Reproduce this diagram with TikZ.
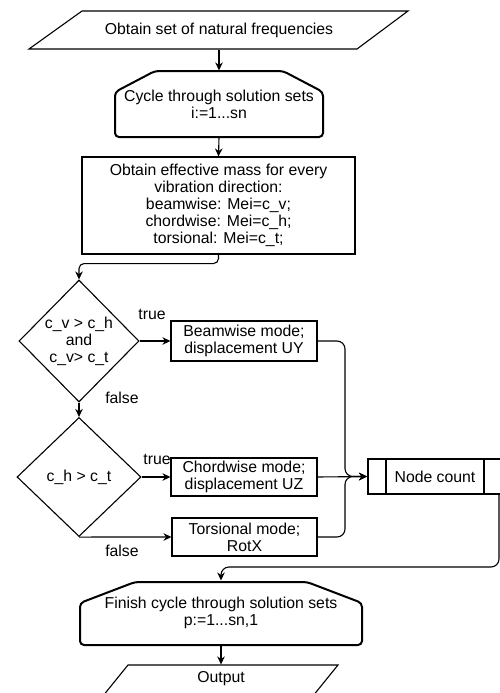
\documentclass[tikz,border=0pt]{standalone}
\usepackage{fontspec}
\setmainfont{Liberation Sans}
\usetikzlibrary{calc,arrows.meta,shapes.geometric}

\begin{document}
\begin{tikzpicture}[x=1pt,y=-1pt,line width=1.1pt,>={Stealth[length=8pt,width=7.5pt]},
  every node/.style={font=\fontsize{15.8}{17}\selectfont,align=center,inner sep=0pt},
  box/.style={draw,rectangle},
  decision/.style={draw,diamond},
  heavy/.style={line width=2pt}]
  \useasboundingbox (0,0) rectangle (499,693);
  % input and loop start
  \node (input) at (219,30) [minimum width=200,minimum height=38] {Obtain set of natural frequencies};
  \draw (82,11) -- (408,11) -- (357,49) -- (29,49) -- cycle;
  \node (cycle) at (219,104) [minimum width=208,minimum height=66] {Cycle through solution sets\\i:=1...sn};
  \draw[heavy,rounded corners=4] (115,115) -- (115,92) -- (155,71) -- (283,71) -- (323,92) -- (323,137) -- (115,137) -- cycle;
  \node (mass) at (218.5,205.5) [box,minimum width=273,minimum height=97] {Obtain effective mass for every\\vibration direction:\\beamwise: Mei=c\_v;\\chordwise: Mei=c\_h;\\torsional: Mei=c\_t;};
  % decisions
  \node (dec1) at (79,341) [decision,minimum width=120,minimum height=122] {};
  \node (dec1txt) at (dec1.center) {c\_v > c\_h\\and\\c\_v> c\_t};
  \node (dec2) at (79,477) [decision,minimum width=124,minimum height=119] {};
  \node (dec2txt) at (dec2.center) {c\_h > c\_t};
  \node (beam) at (244,341) [box,minimum width=146,minimum height=40] {Beamwise mode;\\displacement UY};
  \node (chord) at (244,477) [box,minimum width=146,minimum height=38] {Chordwise mode;\\displacement UZ};
  \node (tors) at (244.5,537) [box,minimum width=145,minimum height=38] {Torsional mode;\\RotX};
  \node (true1) at (152,314) {true};
  \node (false1) at (122,398) {false};
  \node (true2) at (157,459) {true};
  \node (false2) at (122,551) {false};
  % node count
  \node (count) at (435,476.5) [box,heavy,minimum width=134,minimum height=35] {Node count};
  \draw[heavy] ($(count.north west)+(19,0)$) -- ($(count.south west)+(19,0)$);
  \draw[heavy] ($(count.north east)+(-19,0)$) -- ($(count.south east)+(-19,0)$);
  % loop end and output
  \node (finish) at (221,613) [minimum width=250,minimum height=64] {Finish cycle through solution sets\\p:=1...sn,1};
  \draw[heavy,rounded corners=4] (80,624) -- (80,603) -- (135,582) -- (307,582) -- (362,603) -- (362,645) -- (80,645) -- cycle;
  \node (output) at (221,679) [minimum width=150,minimum height=28] {Output};
  \draw (128,665) -- (338,665) -- (304,707) -- (94,707) -- cycle;
  % connectors
  \coordinate (join) at (345,476.5);
  \coordinate (back) at (221,567);
  \draw[->] (input.south) -- (cycle.north);
  \draw[->] (cycle.south) -- (mass.north);
  \draw[->,rounded corners=5] (mass.south) -- ++(0,9) -| (dec1.north);
  \draw[->] (dec1.east) -- (beam.west);
  \draw[->] (dec1.south) -- (dec2.north);
  \draw[->] (dec2.east) -- (chord.west);
  \draw[->] (dec2.south) -- (tors.west);
  \draw[->,rounded corners=8] (beam.east) -| (join) -- (count.west);
  \draw[->,rounded corners=8] (tors.east) -| (join) -- (count.west);
  \draw[->] (chord.east) -- (count.west);
  \draw[->,rounded corners=8] ($(count.south east)+(-4,0)$) |- (back) -- (finish.north);
  \draw[->] (finish.south) -- (output.north);
\end{tikzpicture}
\end{document}
